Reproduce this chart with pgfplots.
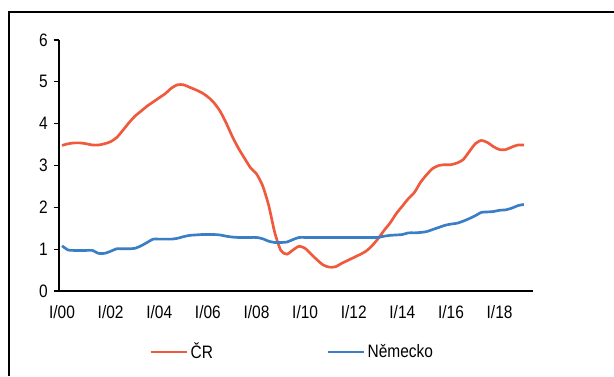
\documentclass[border=0pt]{standalone}
\usepackage{fontspec}
\setmainfont{Liberation Sans}[FakeStretch=0.86]
\usepackage{pgfplots}
\pgfplotsset{compat=1.18}
\usepackage{pgfplotstable}
\definecolor{cr}{RGB}{239,90,60}
\definecolor{de}{RGB}{58,126,198}
\pgfplotstableread{
i cr de
0 3.48 1.08
1 3.52 0.98
2 3.54 0.97
3 3.54 0.97
4 3.52 0.97
5 3.49 0.97
6 3.49 0.90
7 3.52 0.90
8 3.57 0.95
9 3.67 1.01
10 3.84 1.01
11 4.02 1.01
12 4.18 1.02
13 4.30 1.08
14 4.42 1.16
15 4.52 1.24
16 4.62 1.24
17 4.72 1.24
18 4.85 1.24
19 4.93 1.26
20 4.93 1.30
21 4.87 1.33
22 4.81 1.34
23 4.74 1.35
24 4.64 1.35
25 4.50 1.35
26 4.30 1.34
27 4.02 1.31
28 3.70 1.29
29 3.42 1.28
30 3.18 1.28
31 2.95 1.28
32 2.80 1.28
33 2.52 1.25
34 2.05 1.19
35 1.40 1.16
36 0.97 1.16
37 0.88 1.17
38 0.98 1.23
39 1.07 1.28
40 1.02 1.28
41 0.88 1.28
42 0.74 1.28
43 0.62 1.28
44 0.57 1.28
45 0.58 1.28
46 0.66 1.28
47 0.73 1.28
48 0.80 1.28
49 0.87 1.28
50 0.95 1.28
51 1.08 1.28
52 1.25 1.28
53 1.45 1.31
54 1.63 1.33
55 1.85 1.34
56 2.03 1.35
57 2.21 1.39
58 2.36 1.39
59 2.60 1.40
60 2.78 1.42
61 2.93 1.47
62 3.00 1.52
63 3.02 1.57
64 3.02 1.60
65 3.06 1.62
66 3.14 1.67
67 3.33 1.73
68 3.52 1.80
69 3.60 1.88
70 3.55 1.89
71 3.45 1.90
72 3.38 1.93
73 3.38 1.94
74 3.44 1.98
75 3.49 2.04
76 3.49 2.07
}\datatable
\begin{document}
\begin{tikzpicture}
\useasboundingbox (0,0) rectangle (460.5pt,282pt);
\draw[line width=1.5pt,black] (6.75pt,0) -- (6.75pt,273.0pt) -- (460.5pt,273.0pt);
\begin{axis}[
  at={(44.25pt,63.75pt)}, anchor=south west,
  scale only axis, width=355.5pt, height=188.25pt,
  xmin=-0.5, xmax=77.5, ymin=0, ymax=6,
  axis x line=bottom, axis y line=left,
  axis line style={-, line width=0.8pt, black},
  xtick={0,8,16,24,32,40,48,56,64,72},
  xticklabels={I/00,I/02,I/04,I/06,I/08,I/10,I/12,I/14,I/16,I/18},
  ytick={0,1,2,3,4,5,6},
  tick align=outside,
  x tick style={draw=none},
  y tick style={line width=0.8pt, black},
  major tick length=4pt,
  tick label style={font=\fontsize{13.5}{15}\selectfont},
  /pgf/number format/assume math mode=true,
  xticklabel style={yshift=-3pt},
  yticklabel style={xshift=-1pt},
  legend columns=2,
  legend style={at={(0.19,-0.243)}, anchor=west, draw=none, fill=none,
    inner sep=0pt, font=\fontsize{13.5}{15}\selectfont,
    /tikz/every even column/.append style={column sep=83pt}},
  legend image code/.code={\draw[#1] (0pt,0pt) -- (27pt,0pt);},
]
\addplot[cr, line width=2pt, smooth, tension=0.4] table[x=i, y=cr] {\datatable};
\addlegendentry{ČR}
\addplot[de, line width=2pt, smooth, tension=0.4] table[x=i, y=de] {\datatable};
\addlegendentry{Německo}
\end{axis}
\end{tikzpicture}
\end{document}
